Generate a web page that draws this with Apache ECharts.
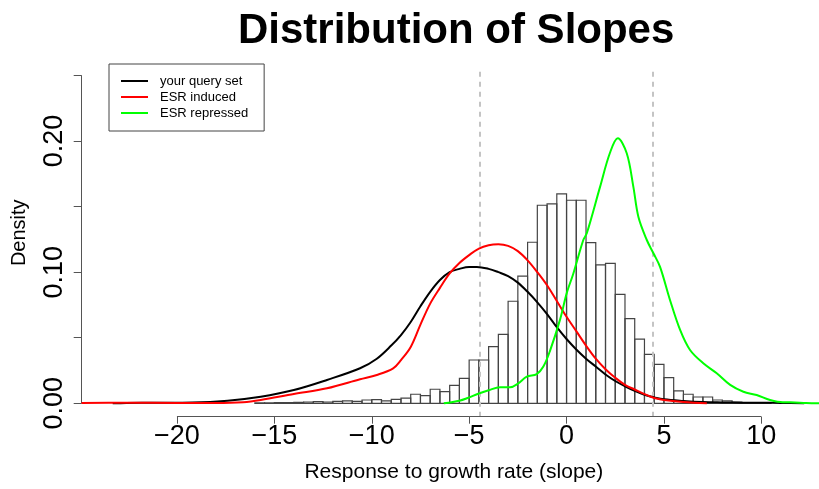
<!DOCTYPE html>
<html>
<head>
<meta charset="utf-8">
<script src="https://cdn.jsdelivr.net/npm/echarts@6/dist/echarts.min.js"></script>
<style>
  html, body { margin: 0; padding: 0; background: #fff; }
  #chart { width: 819px; height: 489px; }
</style>
</head>
<body>
<div id="chart"></div>
<script>
// Histogram of slopes: left edge of each 0.5-wide bin and its density
const binWidth = 0.5;
const binStarts = [
  -16, -15.5, -15, -14.5, -14, -13.5, -13, -12.5, -12, -11.5, -11, -10.5,
  -10, -9.5, -9, -8.5, -8, -7.5, -7, -6.5, -6, -5.5, -5, -4.5, -4, -3.5,
  -3, -2.5, -2, -1.5, -1, -0.5, 0, 0.5, 1, 1.5, 2, 2.5, 3, 3.5, 4, 4.5,
  5, 5.5, 6, 6.5, 7, 7.5, 8, 8.5, 9, 9.5, 10
];
const binDensity = [
  0.0004, 0.0004, 0.0006, 0.0006, 0.0008, 0.0010, 0.0012, 0.0010, 0.0014, 0.0018, 0.0014, 0.0025,
  0.0028, 0.0018, 0.0030, 0.0040, 0.0069, 0.0058, 0.0107, 0.0089, 0.0137, 0.0190, 0.0330, 0.0330, 0.0432, 0.0526,
  0.0778, 0.0970, 0.1228, 0.1510, 0.1520, 0.1596, 0.1548, 0.1548, 0.1225, 0.1055, 0.1067, 0.0831, 0.0645, 0.0490, 0.0373, 0.0297,
  0.0195, 0.0094, 0.0069, 0.0048, 0.0048, 0.0025, 0.0018, 0.0010, 0.0006, 0.0004, 0.0003
];

// Density curve: your query set
const queryX = [-23.3, -22.6, -21, -19.2, -17.4, -15.7, -14, -12.3, -10.6, -9.74, -9, -8.5, -8, -7.5, -7, -6.5, -6, -5.5, -5, -4.6, -4, -3.5, -3, -2.5, -2, -1.5, -1, -0.5, 0, 0.5, 1, 1.5, 2, 2.5, 3, 3.5, 4, 4.5, 5, 6, 7, 8, 9, 10, 11, 12.2];
const queryY = [0, 0.0003, 0.0004, 0.0006, 0.002, 0.005, 0.0101, 0.0178, 0.0267, 0.034, 0.044, 0.052, 0.062, 0.074, 0.085, 0.094, 0.100, 0.1025, 0.104, 0.104, 0.1025, 0.100, 0.097, 0.092, 0.085, 0.077, 0.068, 0.058, 0.049, 0.041, 0.034, 0.028, 0.022, 0.017, 0.013, 0.0095, 0.0065, 0.0045, 0.003, 0.0018, 0.001, 0.0007, 0.0005, 0.0004, 0.0003, 0];

// Density curve: ESR induced
const inducedX = [-24.9, -22.6, -20, -18, -16.6, -15.7, -14, -12.3, -10.6, -9.74, -8.9, -8.5, -8, -7.5, -7, -6.5, -6, -5.5, -5, -4.5, -4, -3.5, -3, -2.5, -2, -1.5, -1, -0.5, 0, 0.5, 1, 1.5, 2, 2.5, 3, 3.5, 4, 4.5, 5, 6, 7.2];
const inducedY = [0.0003, 0.0005, 0.0003, 0.0002, 0.0008, 0.0025, 0.0071, 0.0114, 0.0183, 0.0216, 0.0267, 0.033, 0.043, 0.060, 0.076, 0.088, 0.099, 0.107, 0.113, 0.118, 0.1205, 0.1212, 0.120, 0.116, 0.109, 0.100, 0.090, 0.078, 0.066, 0.055, 0.044, 0.034, 0.026, 0.0195, 0.014, 0.0105, 0.007, 0.004, 0.0025, 0.001, 0];

// Density curve: ESR repressed
const repressedX = [-6.3, -5.5, -5.12, -4.5, -4, -3.41, -2.9, -2.5, -2.04, -1.53, -1.19, -0.85, -0.33, 0.01, 0.35, 0.86, 1.04, 1.72, 2.23, 2.63, 3.09, 3.43, 3.69, 4.12, 4.46, 4.8, 5.31, 5.83, 6.34, 7.02, 7.71, 8.4, 9.08, 9.76, 10.45, 11.1, 11.5, 12.3, 12.96];
const repressedY = [0, 0.002, 0.0038, 0.0075, 0.010, 0.0122, 0.0122, 0.015, 0.0203, 0.0223, 0.028, 0.040, 0.064, 0.084, 0.099, 0.1245, 0.1296, 0.165, 0.191, 0.202, 0.1906, 0.165, 0.142, 0.1245, 0.1144, 0.104, 0.0788, 0.0559, 0.0406, 0.0305, 0.0229, 0.014, 0.0088, 0.0063, 0.0025, 0.0008, 0.0008, 0.0002, 0];

// Axis ticks and reference cut-offs
const xTicks = [-20, -15, -10, -5, 0, 5, 10];
const yTicks = [0, 0.05, 0.10, 0.15, 0.20, 0.25];
const yLabels = [0, 0.10, 0.20];
const cutoffs = [-4.45, 4.45];

const seriesNames = ['your query set', 'ESR induced', 'ESR repressed'];
const seriesColors = ['#000000', '#ff0000', '#00ff00'];

// Plot extents (the R plot region, padded 4% around the data)
const xMin = -24.89, xMax = 12.96;
const yMin = -0.01022, yMax = 0.2657;
const cutoffTop = 0.254;

const pairs = (xs, ys) => xs.map((x, i) => [x, ys[i]]);
const minus = v => String(v).replace('-', '\u2212');

const chart = echarts.init(document.getElementById('chart'), null, { renderer: 'canvas' });

const curveSeries = [[queryX, queryY], [inducedX, inducedY], [repressedX, repressedY]].map((c, i) => ({
  name: seriesNames[i],
  type: 'line',
  data: pairs(c[0], c[1]),
  smooth: 0.35,
  showSymbol: false,
  symbol: 'none',
  clip: true,
  z: 5,
  lineStyle: { color: seriesColors[i], width: 2 },
  itemStyle: { color: seriesColors[i] }
}));

const axisGray = '#555';

chart.setOption({
  animation: false,
  backgroundColor: '#ffffff',
  textStyle: { fontFamily: 'Liberation Sans, Arial, sans-serif' },
  title: {
    text: 'Distribution of Slopes',
    left: 233,
    top: 5,
    textStyle: { fontSize: 42, fontWeight: 'bold', color: '#000', fontFamily: 'Liberation Sans, Arial, sans-serif' }
  },
  legend: {
    data: seriesNames,
    orient: 'vertical',
    left: 109,
    top: 64,
    itemWidth: 27,
    itemHeight: 14,
    itemGap: 0,
    padding: [9, 16, 10, 12],
    borderColor: '#444',
    borderWidth: 1,
    selectedMode: false,
    icon: 'path://M0,6 L27,6 L27,8 L0,8 Z',
    textStyle: { fontSize: 13, color: '#000', lineHeight: 16, padding: [0, 0, 0, 7] }
  },
  grid: { left: 81.7, right: 0, top: 54.8, bottom: 72.3 },
  xAxis: {
    type: 'value',
    min: xMin,
    max: xMax,
    name: 'Response to growth rate (slope)',
    nameLocation: 'middle',
    nameGap: 45,
    nameTextStyle: { fontSize: 21, color: '#000', padding: [0, 0, 0, 7] },
    axisLine: { show: false, onZero: false },
    splitLine: { show: false },
    axisTick: { show: true, customValues: xTicks, length: 7, lineStyle: { color: axisGray, width: 1 } },
    axisLabel: { customValues: xTicks, fontSize: 27, color: '#000', margin: 6, formatter: v => minus(v) }
  },
  yAxis: {
    type: 'value',
    min: yMin,
    max: yMax,
    name: 'Density',
    nameLocation: 'middle',
    nameRotate: 90,
    nameGap: 52,
    nameTextStyle: { fontSize: 20, color: '#000', padding: [0, 0, 0, 6] },
    axisLine: { show: false, onZero: false },
    splitLine: { show: false },
    axisTick: { show: true, customValues: yTicks, length: 8, lineStyle: { color: axisGray, width: 1 } },
    axisLabel: { customValues: yLabels, rotate: 90, fontSize: 27, color: '#000', margin: 14, formatter: v => Number(v).toFixed(2) }
  },
  series: [
    {
      name: 'histogram',
      type: 'custom',
      clip: true,
      z: 2,
      data: binStarts.map((s, i) => [s, s + binWidth, binDensity[i]]),
      renderItem: (params, api) => {
        const topLeft = api.coord([api.value(0), api.value(2)]);
        const bottomRight = api.coord([api.value(1), 0]);
        return {
          type: 'rect',
          shape: { x: topLeft[0], y: topLeft[1], width: bottomRight[0] - topLeft[0], height: bottomRight[1] - topLeft[1] },
          style: { fill: 'rgba(0,0,0,0)', stroke: '#444', lineWidth: 1.2 }
        };
      }
    },
    {
      name: 'frame',
      type: 'line',
      data: [],
      z: 1,
      markLine: {
        silent: true,
        symbol: 'none',
        label: { show: false },
        animation: false,
        data: [
          // dashed cut-off lines
          ...cutoffs.map(c => [
            { coord: [c, yMin], lineStyle: { color: '#c4c4c4', width: 2, type: [5, 5] } },
            { coord: [c, cutoffTop] }
          ]),
          // axis lines spanning the tick range only
          [{ coord: [xTicks[0], yMin], lineStyle: { color: axisGray, width: 1, type: 'solid' } }, { coord: [xTicks[xTicks.length - 1], yMin] }],
          [{ coord: [xMin, yTicks[0]], lineStyle: { color: axisGray, width: 1, type: 'solid' } }, { coord: [xMin, yTicks[yTicks.length - 1]] }]
        ]
      }
    },
    ...curveSeries
  ]
});
</script>
</body>
</html>
